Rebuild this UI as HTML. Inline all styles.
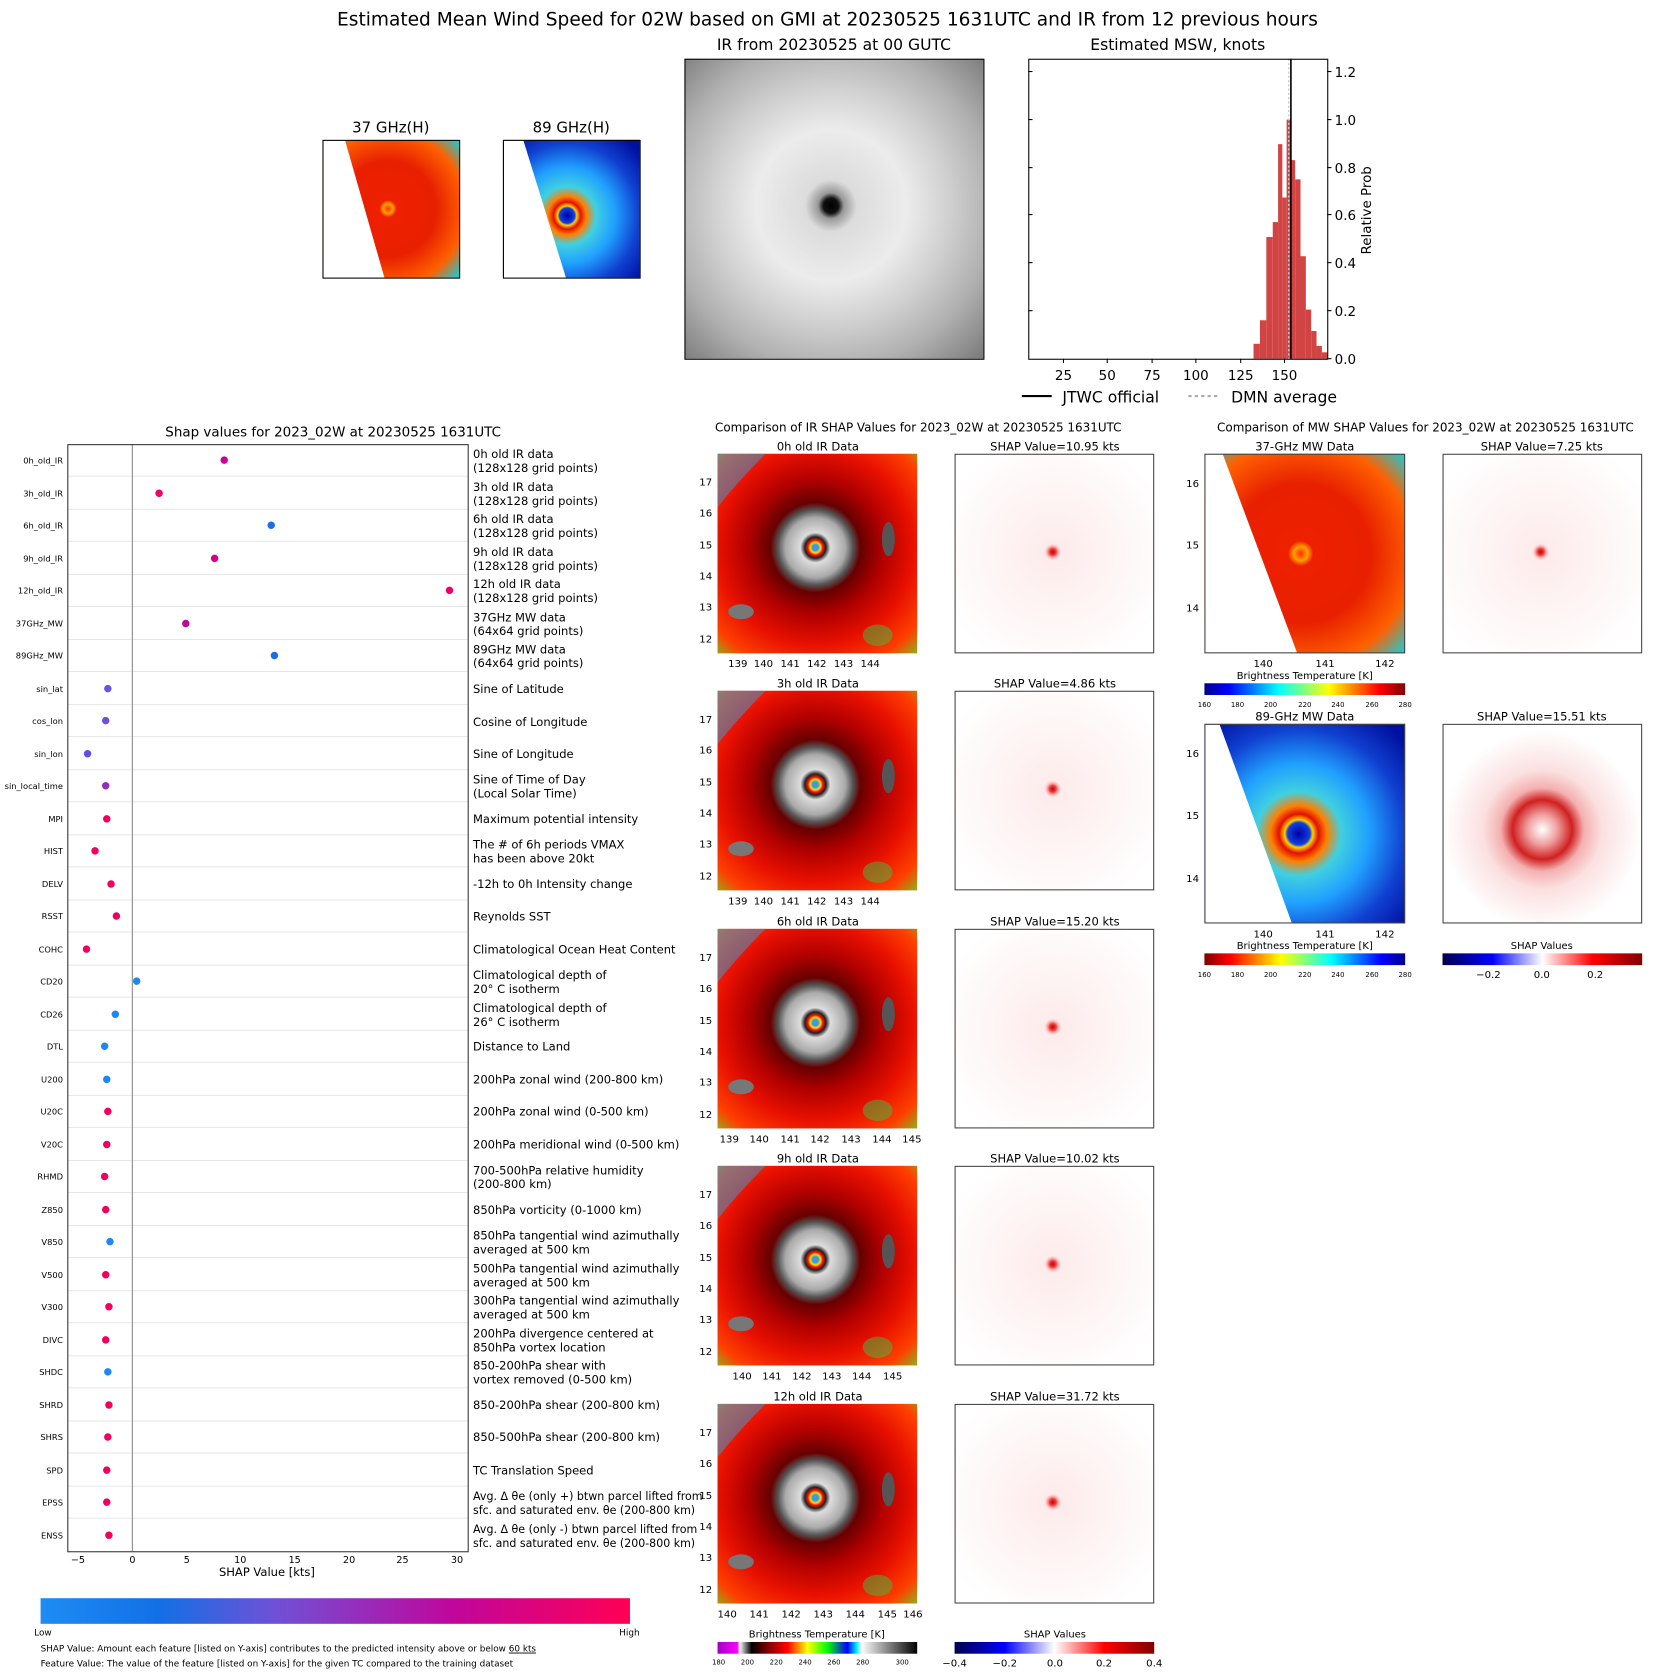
<!DOCTYPE html>
<html><head><meta charset="utf-8"><style>
html,body{margin:0;padding:0;background:#fff}
svg{display:block}
text{font-family:"DejaVu Sans","Liberation Sans",sans-serif;fill:#000}
</style></head><body>
<svg width="1655" height="1674" viewBox="0 0 1550 1568" preserveAspectRatio="none" xmlns="http://www.w3.org/2000/svg">
<defs>
<radialGradient id="grayir" cx="0.49" cy="0.49" r="0.72">
<stop offset="0" stop-color="#000"/><stop offset="0.035" stop-color="#111"/><stop offset="0.06" stop-color="#999"/><stop offset="0.12" stop-color="#dcdcdc"/><stop offset="0.35" stop-color="#ececec"/><stop offset="0.55" stop-color="#d0d0d0"/><stop offset="0.75" stop-color="#b0b0b0"/><stop offset="1" stop-color="#7a7a7a"/>
</radialGradient>
<radialGradient id="colir" cx="0.49" cy="0.47" r="0.75">
<stop offset="0" stop-color="#888"/><stop offset="0.02" stop-color="#20a0ff"/><stop offset="0.035" stop-color="#ffe000"/><stop offset="0.05" stop-color="#ff1000"/><stop offset="0.07" stop-color="#222"/><stop offset="0.1" stop-color="#ddd"/><stop offset="0.2" stop-color="#aaa"/><stop offset="0.25" stop-color="#555"/><stop offset="0.3" stop-color="#600"/><stop offset="0.45" stop-color="#b00000"/><stop offset="0.65" stop-color="#e81000"/><stop offset="0.85" stop-color="#ff4000"/><stop offset="1" stop-color="#80c020"/>
</radialGradient>
<radialGradient id="shapdot" cx="0.5" cy="0.5" r="0.5">
<stop offset="0" stop-color="#c00000"/><stop offset="0.35" stop-color="#f04040"/><stop offset="1" stop-color="#fff" stop-opacity="0"/>
</radialGradient>
<radialGradient id="shapbg" cx="0.5" cy="0.5" r="0.6">
<stop offset="0" stop-color="#fdeaea"/><stop offset="1" stop-color="#fff"/>
</radialGradient>
<radialGradient id="mw37" cx="0.48" cy="0.5" r="0.7">
<stop offset="0" stop-color="#ff3000"/><stop offset="0.05" stop-color="#ffa000"/><stop offset="0.09" stop-color="#ee2000"/><stop offset="0.5" stop-color="#e82000"/><stop offset="0.8" stop-color="#ff6000"/><stop offset="1" stop-color="#30c0c0"/>
</radialGradient>
<radialGradient id="mw89" cx="0.47" cy="0.55" r="0.7">
<stop offset="0" stop-color="#0000a0"/><stop offset="0.08" stop-color="#1040e0"/><stop offset="0.1" stop-color="#ffd000"/><stop offset="0.14" stop-color="#e01000"/><stop offset="0.2" stop-color="#ff8000"/><stop offset="0.3" stop-color="#40d0e0"/><stop offset="0.5" stop-color="#20a0ff"/><stop offset="0.75" stop-color="#1040d0"/><stop offset="1" stop-color="#0010a0"/>
</radialGradient>
<radialGradient id="shap89" cx="0.5" cy="0.53" r="0.5">
<stop offset="0" stop-color="#fff"/><stop offset="0.15" stop-color="#f0a0a0"/><stop offset="0.3" stop-color="#d02020"/><stop offset="0.42" stop-color="#f4b0b0"/><stop offset="0.6" stop-color="#fbe0e0"/><stop offset="1" stop-color="#fff"/>
</radialGradient>
<linearGradient id="shapcb" x1="0" x2="1">
<stop offset="0" stop-color="#1e8cf4"/><stop offset="0.2" stop-color="#1270e6"/><stop offset="0.4" stop-color="#7050d6"/><stop offset="0.7" stop-color="#c0069c"/><stop offset="1" stop-color="#ff0055"/>
</linearGradient>
<linearGradient id="bwr" x1="0" x2="1">
<stop offset="0" stop-color="#00004c"/><stop offset="0.25" stop-color="#0000ff"/><stop offset="0.5" stop-color="#fff"/><stop offset="0.75" stop-color="#ff0000"/><stop offset="1" stop-color="#800000"/>
</linearGradient>
<linearGradient id="jet" x1="0" x2="1">
<stop offset="0" stop-color="#00008f"/><stop offset="0.12" stop-color="#0000ff"/><stop offset="0.37" stop-color="#00ffff"/><stop offset="0.62" stop-color="#ffff00"/><stop offset="0.87" stop-color="#ff0000"/><stop offset="1" stop-color="#800000"/>
</linearGradient>
<linearGradient id="jetr" x1="1" x2="0">
<stop offset="0" stop-color="#00008f"/><stop offset="0.12" stop-color="#0000ff"/><stop offset="0.37" stop-color="#00ffff"/><stop offset="0.62" stop-color="#ffff00"/><stop offset="0.87" stop-color="#ff0000"/><stop offset="1" stop-color="#800000"/>
</linearGradient>
<linearGradient id="ircb" x1="0" x2="1">
<stop offset="0" stop-color="#a000c0"/><stop offset="0.1" stop-color="#ff00ff"/><stop offset="0.11" stop-color="#fff"/><stop offset="0.17" stop-color="#000"/><stop offset="0.25" stop-color="#800000"/><stop offset="0.35" stop-color="#ff0000"/><stop offset="0.45" stop-color="#ffff00"/><stop offset="0.55" stop-color="#00ff00"/><stop offset="0.65" stop-color="#0000ff"/><stop offset="0.7" stop-color="#00ffff"/><stop offset="0.72" stop-color="#fff"/><stop offset="1" stop-color="#000"/>
</linearGradient>
<g id="irp">
<rect width="187" height="187" fill="url(#colir)"/>
<path d="M0 0 L45 0 Q20 25 0 50Z" fill="#30a0e0" opacity="0.5"/>
<ellipse cx="22" cy="148" rx="12" ry="7" fill="#777"/>
<ellipse cx="160" cy="80" rx="6" ry="16" fill="#555"/>
<ellipse cx="150" cy="170" rx="14" ry="10" fill="#40c040" opacity="0.5"/>
</g>
<g id="shp">
<rect x="0.5" y="0.5" width="186" height="186" fill="url(#shapbg)" stroke="#444"/>
<circle cx="92" cy="92" r="9" fill="url(#shapdot)"/>
</g>
</defs>

<text x="775" y="24" font-size="17.4" text-anchor="middle">Estimated Mean Wind Speed for 02W based on GMI at 20230525 1631UTC and IR from 12 previous hours</text>

<text x="366" y="124" font-size="14" text-anchor="middle">37 GHz(H)</text>
<rect x="302" y="131" width="128" height="129" fill="url(#mw37)"/>
<path d="M302 131 L323 131 L360 260 L302 260Z" fill="#fff"/>
<rect x="302.5" y="131.5" width="128" height="129" fill="none" stroke="#000"/>
<text x="535" y="124" font-size="14" text-anchor="middle">89 GHz(H)</text>
<rect x="471" y="131" width="128" height="129" fill="url(#mw89)"/>
<path d="M471 131 L490 131 L530 260 L471 260Z" fill="#fff"/>
<rect x="471.5" y="131.5" width="128" height="129" fill="none" stroke="#000"/>

<text x="781" y="47" font-size="14.6" text-anchor="middle">IR from 20230525 at 00 GUTC</text>
<rect x="641" y="55" width="280" height="281" fill="url(#grayir)"/>
<rect x="641.5" y="55.5" width="280" height="281" fill="none" stroke="#000"/>

<text x="1103" y="47" font-size="14.6" text-anchor="middle">Estimated MSW, knots</text>
<g fill="#d24444">
<rect x="1174" y="322" width="6" height="14"/>
<rect x="1180" y="300" width="6" height="36"/>
<rect x="1186" y="222" width="6" height="114"/>
<rect x="1192" y="208" width="5" height="128"/>
<rect x="1197" y="135" width="4" height="201"/>
<rect x="1201" y="185" width="4" height="151"/>
<rect x="1205" y="112" width="4" height="224"/>
<rect x="1209" y="150" width="4" height="186"/>
<rect x="1213" y="168" width="5" height="168"/>
<rect x="1218" y="240" width="5" height="96"/>
<rect x="1223" y="290" width="5" height="46"/>
<rect x="1228" y="310" width="5" height="26"/>
<rect x="1233" y="324" width="5" height="12"/>
<rect x="1238" y="330" width="5" height="6"/>
</g>
<line x1="1209" y1="55" x2="1209" y2="336" stroke="#000" stroke-width="1.5"/>
<line x1="1207" y1="55" x2="1207" y2="336" stroke="#ccc" stroke-width="1.3" stroke-dasharray="2,2"/>
<rect x="963.5" y="55.5" width="280" height="281" fill="none" stroke="#000"/>
<g stroke="#000">
<line x1="996" y1="336" x2="996" y2="340"/><line x1="1037" y1="336" x2="1037" y2="340"/><line x1="1079" y1="336" x2="1079" y2="340"/><line x1="1120" y1="336" x2="1120" y2="340"/><line x1="1162" y1="336" x2="1162" y2="340"/><line x1="1203" y1="336" x2="1203" y2="340"/>
<line x1="1243" y1="336" x2="1247" y2="336"/><line x1="1243" y1="291" x2="1247" y2="291"/><line x1="1243" y1="246" x2="1247" y2="246"/><line x1="1243" y1="201" x2="1247" y2="201"/><line x1="1243" y1="157" x2="1247" y2="157"/><line x1="1243" y1="112" x2="1247" y2="112"/><line x1="1243" y1="67" x2="1247" y2="67"/>
<line x1="963" y1="291" x2="967" y2="291"/><line x1="963" y1="246" x2="967" y2="246"/><line x1="963" y1="201" x2="967" y2="201"/><line x1="963" y1="157" x2="967" y2="157"/><line x1="963" y1="112" x2="967" y2="112"/><line x1="963" y1="67" x2="967" y2="67"/>
</g>
<g font-size="12.6" text-anchor="middle">
<text x="996" y="356">25</text><text x="1037" y="356">50</text><text x="1079" y="356">75</text><text x="1120" y="356">100</text><text x="1162" y="356">125</text><text x="1203" y="356">150</text>
</g>
<g font-size="12.6">
<text x="1250" y="341">0.0</text><text x="1250" y="296">0.2</text><text x="1250" y="251">0.4</text><text x="1250" y="206">0.6</text><text x="1250" y="162">0.8</text><text x="1250" y="117">1.0</text><text x="1250" y="72">1.2</text>
</g>
<text transform="translate(1284 197) rotate(-90)" font-size="12.6" text-anchor="middle">Relative Prob</text>
<line x1="957" y1="371" x2="985" y2="371" stroke="#000" stroke-width="2"/>
<text x="995" y="377" font-size="14.6">JTWC official</text>
<line x1="1113" y1="371" x2="1141" y2="371" stroke="#aaa" stroke-width="2" stroke-dasharray="3,3"/>
<text x="1153" y="377" font-size="14.6">DMN average</text>

<text x="312" y="409" font-size="12.6" text-anchor="middle">Shap values for 2023_02W at 20230525 1631UTC</text>
<g stroke="#e6e6e6" stroke-width="1">
<line x1="63" y1="446" x2="438" y2="446"/><line x1="63" y1="477" x2="438" y2="477"/><line x1="63" y1="507" x2="438" y2="507"/><line x1="63" y1="538" x2="438" y2="538"/><line x1="63" y1="568" x2="438" y2="568"/><line x1="63" y1="599" x2="438" y2="599"/><line x1="63" y1="629" x2="438" y2="629"/><line x1="63" y1="660" x2="438" y2="660"/><line x1="63" y1="690" x2="438" y2="690"/><line x1="63" y1="721" x2="438" y2="721"/><line x1="63" y1="751" x2="438" y2="751"/><line x1="63" y1="782" x2="438" y2="782"/><line x1="63" y1="812" x2="438" y2="812"/><line x1="63" y1="843" x2="438" y2="843"/><line x1="63" y1="873" x2="438" y2="873"/><line x1="63" y1="904" x2="438" y2="904"/><line x1="63" y1="934" x2="438" y2="934"/><line x1="63" y1="965" x2="438" y2="965"/><line x1="63" y1="995" x2="438" y2="995"/><line x1="63" y1="1026" x2="438" y2="1026"/><line x1="63" y1="1056" x2="438" y2="1056"/><line x1="63" y1="1087" x2="438" y2="1087"/><line x1="63" y1="1117" x2="438" y2="1117"/><line x1="63" y1="1148" x2="438" y2="1148"/><line x1="63" y1="1178" x2="438" y2="1178"/><line x1="63" y1="1209" x2="438" y2="1209"/><line x1="63" y1="1239" x2="438" y2="1239"/><line x1="63" y1="1270" x2="438" y2="1270"/><line x1="63" y1="1300" x2="438" y2="1300"/><line x1="63" y1="1331" x2="438" y2="1331"/><line x1="63" y1="1361" x2="438" y2="1361"/><line x1="63" y1="1392" x2="438" y2="1392"/><line x1="63" y1="1422" x2="438" y2="1422"/>
</g>
<line x1="124" y1="416" x2="124" y2="1453" stroke="#999" stroke-width="1.2"/>
<rect x="63.5" y="416.5" width="375" height="1037" fill="none" stroke="#333"/>
<g font-size="7.8" text-anchor="end" fill="#222">
<text x="59" y="434">0h_old_IR</text><text x="59" y="465">3h_old_IR</text><text x="59" y="495">6h_old_IR</text><text x="59" y="526">9h_old_IR</text><text x="59" y="556">12h_old_IR</text><text x="59" y="587">37GHz_MW</text><text x="59" y="617">89GHz_MW</text><text x="59" y="648">sin_lat</text><text x="59" y="678">cos_lon</text><text x="59" y="709">sin_lon</text><text x="59" y="739">sin_local_time</text><text x="59" y="770">MPI</text><text x="59" y="800">HIST</text><text x="59" y="831">DELV</text><text x="59" y="861">RSST</text><text x="59" y="892">COHC</text><text x="59" y="922">CD20</text><text x="59" y="953">CD26</text><text x="59" y="983">DTL</text><text x="59" y="1014">U200</text><text x="59" y="1044">U20C</text><text x="59" y="1075">V20C</text><text x="59" y="1105">RHMD</text><text x="59" y="1136">Z850</text><text x="59" y="1166">V850</text><text x="59" y="1197">V500</text><text x="59" y="1227">V300</text><text x="59" y="1258">DIVC</text><text x="59" y="1288">SHDC</text><text x="59" y="1319">SHRD</text><text x="59" y="1349">SHRS</text><text x="59" y="1380">SPD</text><text x="59" y="1410">EPSS</text><text x="59" y="1441">ENSS</text>
</g>
<g>
<circle cx="210" cy="431" r="3.5" fill="#cc0099"/>
<circle cx="149" cy="462" r="3.5" fill="#f0006a"/>
<circle cx="254" cy="492" r="3.5" fill="#1a6fe6"/>
<circle cx="201" cy="523" r="3.5" fill="#d8008a"/>
<circle cx="421" cy="553" r="3.5" fill="#f0006a"/>
<circle cx="174" cy="584" r="3.5" fill="#c0089a"/>
<circle cx="257" cy="614" r="3.5" fill="#1a6fe6"/>
<circle cx="101" cy="645" r="3.5" fill="#6655dd"/>
<circle cx="99" cy="675" r="3.5" fill="#7050d8"/>
<circle cx="82" cy="706" r="3.5" fill="#6050e0"/>
<circle cx="99" cy="736" r="3.5" fill="#9030b8"/>
<circle cx="100" cy="767" r="3.5" fill="#f2005e"/>
<circle cx="89" cy="797" r="3.5" fill="#f2005e"/>
<circle cx="104" cy="828" r="3.5" fill="#f2005e"/>
<circle cx="109" cy="858" r="3.5" fill="#f2005e"/>
<circle cx="81" cy="889" r="3.5" fill="#f2005e"/>
<circle cx="128" cy="919" r="3.5" fill="#1e88f0"/>
<circle cx="108" cy="950" r="3.5" fill="#1e88f0"/>
<circle cx="98" cy="980" r="3.5" fill="#1e88f0"/>
<circle cx="100" cy="1011" r="3.5" fill="#1e88f0"/>
<circle cx="101" cy="1041" r="3.5" fill="#f2005e"/>
<circle cx="100" cy="1072" r="3.5" fill="#f2005e"/>
<circle cx="98" cy="1102" r="3.5" fill="#f2005e"/>
<circle cx="99" cy="1133" r="3.5" fill="#f2005e"/>
<circle cx="103" cy="1163" r="3.5" fill="#1e88f0"/>
<circle cx="99" cy="1194" r="3.5" fill="#f2005e"/>
<circle cx="102" cy="1224" r="3.5" fill="#f2005e"/>
<circle cx="99" cy="1255" r="3.5" fill="#f2005e"/>
<circle cx="101" cy="1285" r="3.5" fill="#1e88f0"/>
<circle cx="102" cy="1316" r="3.5" fill="#f2005e"/>
<circle cx="101" cy="1346" r="3.5" fill="#f2005e"/>
<circle cx="100" cy="1377" r="3.5" fill="#f2005e"/>
<circle cx="100" cy="1407" r="3.5" fill="#f2005e"/>
<circle cx="102" cy="1438" r="3.5" fill="#f2005e"/>
</g>
<g font-size="10.8">
<text x="443" y="429">0h old IR data</text><text x="443" y="442">(128x128 grid points)</text>
<text x="443" y="460">3h old IR data</text><text x="443" y="473">(128x128 grid points)</text>
<text x="443" y="490">6h old IR data</text><text x="443" y="503">(128x128 grid points)</text>
<text x="443" y="521">9h old IR data</text><text x="443" y="534">(128x128 grid points)</text>
<text x="443" y="551">12h old IR data</text><text x="443" y="564">(128x128 grid points)</text>
<text x="443" y="582">37GHz MW data</text><text x="443" y="595">(64x64 grid points)</text>
<text x="443" y="612">89GHz MW data</text><text x="443" y="625">(64x64 grid points)</text>
<text x="443" y="649">Sine of Latitude</text>
<text x="443" y="680">Cosine of Longitude</text>
<text x="443" y="710">Sine of Longitude</text>
<text x="443" y="734">Sine of Time of Day</text><text x="443" y="747">(Local Solar Time)</text>
<text x="443" y="771">Maximum potential intensity</text>
<text x="443" y="795">The # of 6h periods VMAX</text><text x="443" y="808">has been above 20kt</text>
<text x="443" y="832">-12h to 0h Intensity change</text>
<text x="443" y="862">Reynolds SST</text>
<text x="443" y="893">Climatological Ocean Heat Content</text>
<text x="443" y="917">Climatological depth of</text><text x="443" y="930">20° C isotherm</text>
<text x="443" y="948">Climatological depth of</text><text x="443" y="961">26° C isotherm</text>
<text x="443" y="984">Distance to Land</text>
<text x="443" y="1015">200hPa zonal wind (200-800 km)</text>
<text x="443" y="1045">200hPa zonal wind (0-500 km)</text>
<text x="443" y="1076">200hPa meridional wind (0-500 km)</text>
<text x="443" y="1100">700-500hPa relative humidity</text><text x="443" y="1113">(200-800 km)</text>
<text x="443" y="1137">850hPa vorticity (0-1000 km)</text>
<text x="443" y="1161">850hPa tangential wind azimuthally</text><text x="443" y="1174">averaged at 500 km</text>
<text x="443" y="1192">500hPa tangential wind azimuthally</text><text x="443" y="1205">averaged at 500 km</text>
<text x="443" y="1222">300hPa tangential wind azimuthally</text><text x="443" y="1235">averaged at 500 km</text>
<text x="443" y="1253">200hPa divergence centered at</text><text x="443" y="1266">850hPa vortex location</text>
<text x="443" y="1283">850-200hPa shear with</text><text x="443" y="1296">vortex removed (0-500 km)</text>
<text x="443" y="1320">850-200hPa shear (200-800 km)</text>
<text x="443" y="1350">850-500hPa shear (200-800 km)</text>
<text x="443" y="1381">TC Translation Speed</text>
<text x="443" y="1405" textLength="215" lengthAdjust="spacingAndGlyphs">Avg. Δ θe (only +) btwn parcel lifted from</text><text x="443" y="1418" textLength="208" lengthAdjust="spacingAndGlyphs">sfc. and saturated env. θe (200-800 km)</text>
<text x="443" y="1436" textLength="210" lengthAdjust="spacingAndGlyphs">Avg. Δ θe (only -) btwn parcel lifted from</text><text x="443" y="1449" textLength="208" lengthAdjust="spacingAndGlyphs">sfc. and saturated env. θe (200-800 km)</text>
</g>
<g font-size="9" text-anchor="middle" fill="#222">
<text x="73" y="1464">−5</text><text x="124" y="1464">0</text><text x="175" y="1464">5</text><text x="225" y="1464">10</text><text x="276" y="1464">15</text><text x="327" y="1464">20</text><text x="377" y="1464">25</text><text x="428" y="1464">30</text>
</g>
<text x="250" y="1476" font-size="10.8" text-anchor="middle">SHAP Value [kts]</text>
<rect x="38" y="1497" width="552" height="24" fill="url(#shapcb)"/>
<g font-size="8.3" fill="#222">
<text x="32" y="1532">Low</text><text x="580" y="1532">High</text>
<text x="38" y="1547">SHAP Value: Amount each feature [listed on Y-axis] contributes to the predicted intensity above or below <tspan text-decoration="underline">60 kts</tspan></text>
<text x="38" y="1561">Feature Value: The value of the feature [listed on Y-axis] for the given TC compared to the training dataset</text>
</g>

<text x="860" y="404" font-size="11.2" text-anchor="middle">Comparison of IR SHAP Values for 2023_02W at 20230525 1631UTC</text>
<g font-size="10.8" text-anchor="middle">
<text x="766" y="422">0h old IR Data</text><text x="988" y="422">SHAP Value=10.95 kts</text>
<text x="766" y="644">3h old IR Data</text><text x="988" y="644">SHAP Value=4.86 kts</text>
<text x="766" y="867">6h old IR Data</text><text x="988" y="867">SHAP Value=15.20 kts</text>
<text x="766" y="1089">9h old IR Data</text><text x="988" y="1089">SHAP Value=10.02 kts</text>
<text x="766" y="1312">12h old IR Data</text><text x="988" y="1312">SHAP Value=31.72 kts</text>
</g>
<use href="#irp" x="672" y="425"/><use href="#irp" x="672" y="647"/><use href="#irp" x="672" y="870"/><use href="#irp" x="672" y="1092"/><use href="#irp" x="672" y="1315"/>
<use href="#shp" x="894" y="425"/><use href="#shp" x="894" y="647"/><use href="#shp" x="894" y="870"/><use href="#shp" x="894" y="1092"/><use href="#shp" x="894" y="1315"/>
<g font-size="9.5" text-anchor="end" fill="#222">
<text x="667" y="455">17</text><text x="667" y="484">16</text><text x="667" y="514">15</text><text x="667" y="543">14</text><text x="667" y="572">13</text><text x="667" y="602">12</text>
<text x="667" y="677">17</text><text x="667" y="706">16</text><text x="667" y="736">15</text><text x="667" y="765">14</text><text x="667" y="794">13</text><text x="667" y="824">12</text>
<text x="667" y="900">17</text><text x="667" y="929">16</text><text x="667" y="959">15</text><text x="667" y="988">14</text><text x="667" y="1017">13</text><text x="667" y="1047">12</text>
<text x="667" y="1122">17</text><text x="667" y="1151">16</text><text x="667" y="1181">15</text><text x="667" y="1210">14</text><text x="667" y="1239">13</text><text x="667" y="1269">12</text>
<text x="667" y="1345">17</text><text x="667" y="1374">16</text><text x="667" y="1404">15</text><text x="667" y="1433">14</text><text x="667" y="1462">13</text><text x="667" y="1492">12</text>
</g>
<g font-size="9.5" text-anchor="middle" fill="#222">
<text x="691" y="625">139</text><text x="715" y="625">140</text><text x="740" y="625">141</text><text x="765" y="625">142</text><text x="790" y="625">143</text><text x="815" y="625">144</text>
<text x="691" y="847">139</text><text x="715" y="847">140</text><text x="740" y="847">141</text><text x="765" y="847">142</text><text x="790" y="847">143</text><text x="815" y="847">144</text>
<text x="683" y="1070">139</text><text x="711" y="1070">140</text><text x="740" y="1070">141</text><text x="768" y="1070">142</text><text x="797" y="1070">143</text><text x="826" y="1070">144</text><text x="854" y="1070">145</text>
<text x="695" y="1292">140</text><text x="723" y="1292">141</text><text x="751" y="1292">142</text><text x="779" y="1292">143</text><text x="807" y="1292">144</text><text x="836" y="1292">145</text>
<text x="681" y="1515">140</text><text x="711" y="1515">141</text><text x="741" y="1515">142</text><text x="771" y="1515">143</text><text x="801" y="1515">144</text><text x="831" y="1515">145</text><text x="855" y="1515">146</text>
</g>
<text x="765" y="1534" font-size="9.3" text-anchor="middle">Brightness Temperature [K]</text>
<rect x="672" y="1538" width="187" height="11" fill="url(#ircb)"/>
<g font-size="6.5" text-anchor="middle" fill="#222">
<text x="673" y="1559">180</text><text x="700" y="1559">200</text><text x="727" y="1559">220</text><text x="754" y="1559">240</text><text x="781" y="1559">260</text><text x="808" y="1559">280</text><text x="845" y="1559">300</text>
</g>
<text x="988" y="1534" font-size="9.3" text-anchor="middle">SHAP Values</text>
<rect x="894" y="1538" width="187" height="11" fill="url(#bwr)"/>
<g font-size="9.5" text-anchor="middle" fill="#222">
<text x="894" y="1561">−0.4</text><text x="941" y="1561">−0.2</text><text x="988" y="1561">0.0</text><text x="1034" y="1561">0.2</text><text x="1081" y="1561">0.4</text>
</g>

<text x="1335" y="404" font-size="11.2" text-anchor="middle">Comparison of MW SHAP Values for 2023_02W at 20230525 1631UTC</text>
<g font-size="10.8" text-anchor="middle">
<text x="1222" y="422">37-GHz MW Data</text><text x="1444" y="422">SHAP Value=7.25 kts</text>
<text x="1222" y="675">89-GHz MW Data</text><text x="1444" y="675">SHAP Value=15.51 kts</text>
</g>
<rect x="1128" y="425" width="188" height="187" fill="url(#mw37)"/>
<path d="M1128 425 L1145 425 L1215 612 L1128 612Z" fill="#fff"/>
<rect x="1128.5" y="425.5" width="187" height="186" fill="none" stroke="#444"/>
<use href="#shp" x="1351" y="425"/>
<rect x="1128" y="678" width="188" height="187" fill="url(#mw89)"/>
<path d="M1128 678 L1142 678 L1210 865 L1128 865Z" fill="#fff"/>
<rect x="1128.5" y="678.5" width="187" height="186" fill="none" stroke="#444"/>
<rect x="1351.5" y="678.5" width="186" height="186" fill="url(#shap89)" stroke="#444"/>
<g font-size="9.5" text-anchor="end" fill="#222">
<text x="1123" y="456">16</text><text x="1123" y="514">15</text><text x="1123" y="573">14</text>
<text x="1123" y="709">16</text><text x="1123" y="767">15</text><text x="1123" y="826">14</text>
</g>
<g font-size="9.5" text-anchor="middle" fill="#222">
<text x="1183" y="625">140</text><text x="1241" y="625">141</text><text x="1297" y="625">142</text>
<text x="1183" y="878">140</text><text x="1241" y="878">141</text><text x="1297" y="878">142</text>
</g>
<text x="1222" y="636" font-size="9.3" text-anchor="middle">Brightness Temperature [K]</text>
<rect x="1128" y="640" width="188" height="11" fill="url(#jet)"/>
<g font-size="6.5" text-anchor="middle" fill="#222">
<text x="1128" y="662">160</text><text x="1159" y="662">180</text><text x="1190" y="662">200</text><text x="1222" y="662">220</text><text x="1253" y="662">240</text><text x="1285" y="662">260</text><text x="1316" y="662">280</text>
</g>
<text x="1222" y="889" font-size="9.3" text-anchor="middle">Brightness Temperature [K]</text>
<rect x="1128" y="893" width="188" height="11" fill="url(#jetr)"/>
<g font-size="6.5" text-anchor="middle" fill="#222">
<text x="1128" y="915">160</text><text x="1159" y="915">180</text><text x="1190" y="915">200</text><text x="1222" y="915">220</text><text x="1253" y="915">240</text><text x="1285" y="915">260</text><text x="1316" y="915">280</text>
</g>
<text x="1444" y="889" font-size="9.3" text-anchor="middle">SHAP Values</text>
<rect x="1351" y="893" width="187" height="11" fill="url(#bwr)"/>
<g font-size="9.5" text-anchor="middle" fill="#222">
<text x="1394" y="916">−0.2</text><text x="1444" y="916">0.0</text><text x="1494" y="916">0.2</text>
</g>
</svg>
</body></html>
